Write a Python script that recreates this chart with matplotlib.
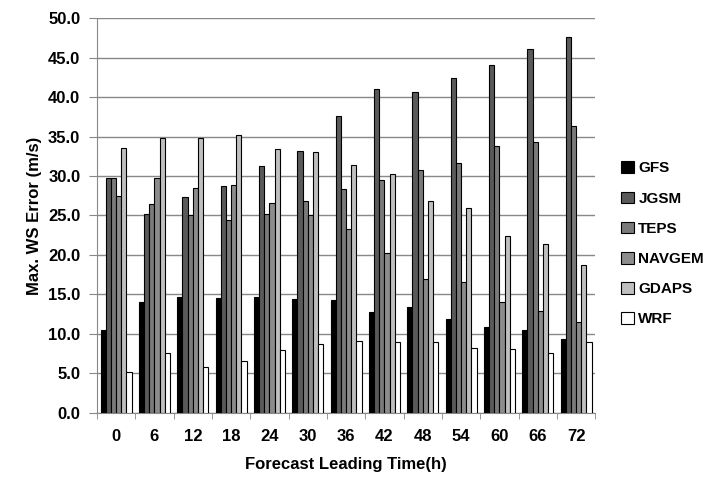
import numpy as np
import matplotlib.pyplot as plt

plt.rcParams['font.family'] = ['Liberation Sans', 'DejaVu Sans']
plt.rcParams['font.weight'] = 'bold'

hours = ['0', '6', '12', '18', '24', '30', '36', '42', '48', '54', '60', '66', '72']
gfs = [10.5, 14.0, 14.7, 14.6, 14.7, 14.4, 14.3, 12.8, 13.4, 11.9, 10.9, 10.5, 9.4]
jgsm = [29.8, 25.2, 27.4, 28.8, 31.3, 33.2, 37.6, 41.0, 40.6, 42.4, 44.1, 46.1, 47.6]
teps = [29.8, 26.5, 25.0, 24.4, 25.2, 26.8, 28.3, 29.5, 30.8, 31.7, 33.8, 34.3, 36.3]
navgem = [27.5, 29.8, 28.5, 28.9, 26.6, 25.1, 23.3, 20.2, 16.9, 16.6, 14.1, 12.9, 11.5]
gdaps = [33.5, 34.8, 34.8, 35.2, 33.4, 33.0, 31.4, 30.3, 26.9, 25.9, 22.4, 21.4, 18.7]
wrf = [5.2, 7.6, 5.8, 6.6, 8.0, 8.7, 9.1, 9.0, 9.0, 8.2, 8.1, 7.6, 9.0]

series = [('GFS', gfs, '#000000'), ('JGSM', jgsm, '#5a5a5a'), ('TEPS', teps, '#7a7a7a'),
          ('NAVGEM', navgem, '#8c8c8c'), ('GDAPS', gdaps, '#bfbfbf'), ('WRF', wrf, '#ffffff')]

fig = plt.figure(figsize=(7.18, 4.92), dpi=100)
ax = fig.add_axes([0.135, 0.161, 0.694, 0.802])

x = np.arange(len(hours))
w = 0.135
for i, (name, vals, col) in enumerate(series):
    ax.bar(x + (i - 2.5) * w, vals, w, color=col, edgecolor='black', linewidth=0.8,
           label=name, zorder=3)

ax.set_xlim(-0.5, len(hours) - 0.5)
ax.set_ylim(0, 50)
ax.set_yticks(np.arange(0, 50.1, 5))
ax.set_yticklabels([f'{v:.1f}' for v in np.arange(0, 50.1, 5)], fontsize=12)
ax.set_xticks(x)
ax.set_xticklabels(hours, fontsize=12)
ax.set_xticks(np.arange(-0.5, len(hours), 1), minor=True)
ax.tick_params(axis='x', which='major', length=0, pad=12)
ax.tick_params(axis='x', which='minor', length=4, color='#888888')
ax.tick_params(axis='y', length=6, pad=6, color='#888888')
ax.yaxis.grid(True, color='#888888', linewidth=1.0, zorder=0)
for s in ['top', 'right']:
    ax.spines[s].set_visible(False)
for s in ['left', 'bottom']:
    ax.spines[s].set_color('#888888')

ax.set_xlabel('Forecast Leading Time(h)', fontsize=12, fontweight='bold', labelpad=9)
ax.set_ylabel('Max. WS Error (m/s)', fontsize=12, fontweight='bold', labelpad=4)

ax.legend(loc='center left', bbox_to_anchor=(1.025, 0.428), frameon=False, fontsize=11,
          handlelength=0.8, handleheight=0.8, handletextpad=0.3, labelspacing=1.05)

fig.savefig('out.png', dpi=100)
